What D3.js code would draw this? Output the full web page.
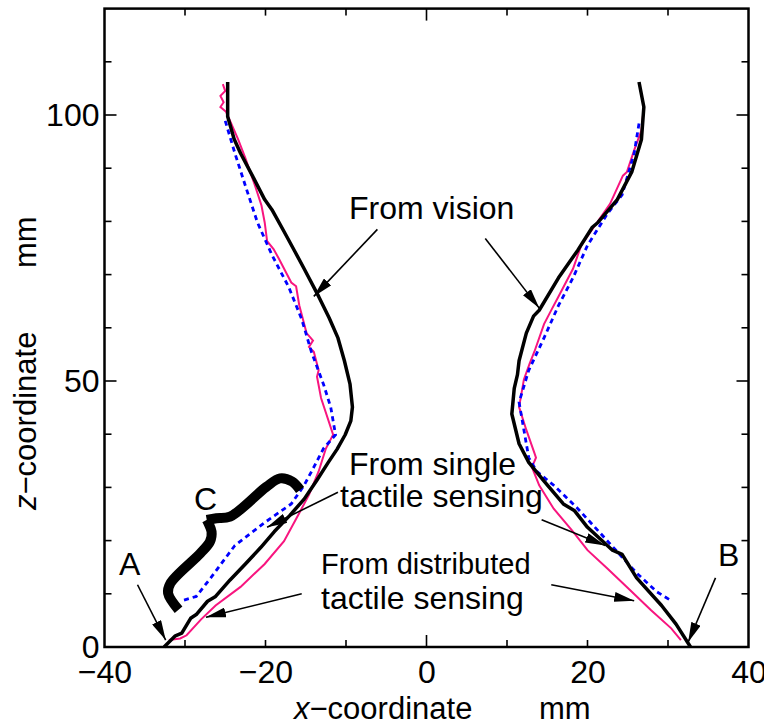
<!DOCTYPE html>
<html>
<head>
<meta charset="utf-8">
<script src="https://cdn.jsdelivr.net/npm/d3@7/dist/d3.min.js"></script>
<style>
  body { margin: 0; background: #fff; }
  text { font-family: "Liberation Sans", Arial, sans-serif; fill: #000; }
</style>
</head>
<body>
<svg width="764" height="724"></svg>
<script>
// values, [x mm, z mm]
var visionLeft = [[-24.7,106.2],[-24.7,99.7],[-23.9,95.5],[-23.1,92.8],[-21.6,88.5],[-20.1,84.1],[-19.2,82.2],[-17.7,78.1],
  [-16.3,74.2],[-15.2,71.1],[-13.4,65.9],[-12.1,61.9],[-11.0,58.1],[-10.2,53.8],[-9.5,49.4],[-9.2,45.1],[-9.4,42.5],
  [-10.1,39.9],[-11.1,37.2],[-12.2,34.7],[-13.6,31.4],[-15.2,27.8],[-17.0,24.7],[-18.9,21.7],[-20.6,18.7],[-22.5,15.6],
  [-24.4,12.6],[-26.2,9.5],[-27.2,8.6],[-28.6,6.1],[-29.3,5.4],[-30.4,2.6],[-31.2,2.1],[-32.6,0]];
var visionRight = [[26.4,106.2],[27.0,101.5],[26.7,95.4],[25.5,89.3],[23.7,84.1],[21.3,79.8],[20.6,78.9],[18.8,74.6],
  [16.4,69.4],[14.0,63.3],[13.3,62.2],[12.4,59.0],[11.5,53.8],[11.3,51.2],[10.9,48.6],[10.6,43.8],[11.5,38.2],
  [12.7,34.7],[14.6,31.2],[17.0,26.9],[18.4,25.6],[20.0,22.5],[23.1,18.2],[24.3,17.4],[26.1,13.0],[29.2,7.8],
  [31.0,4.3],[32.8,0]];
var distLeft = [[-25.3,105.8],[-25.0,104.5],[-25.6,103.6],[-25.2,102.4],[-25.6,101.5],[-24.9,100.6],[-24.4,98.9],
  [-23.4,95.4],[-22.5,91.9],[-21.3,86.7],[-20.5,83.0],[-20.1,79.8],[-19.8,76.3],[-19.0,74.8],[-18.3,72.9],
  [-16.8,68.5],[-16.2,67.8],[-15.8,64.2],[-14.9,59.0],[-14.1,57.6],[-14.6,56.4],[-14.0,55.5],[-13.4,52.0],
  [-13.6,50.8],[-13.1,46.8],[-11.6,39.9],[-12.5,37.3],[-13.4,33.0],[-14.6,28.6],[-15.8,25.2],[-17.7,19.9],
  [-20.1,15.6],[-23.1,11.3],[-26.2,7.8],[-28.0,5.2],[-29.8,2.2],[-30.6,1.6],[-32.0,1.3]];
var distRight = [[27.0,101.5],[26.7,97.1],[25.8,93.4],[24.9,89.3],[24.4,88.6],[22.8,83.3],[20.0,77.2],[19.2,75.4],
  [18.2,71.1],[16.4,65.9],[15.6,63.6],[14.6,60.7],[13.4,55.5],[12.8,53.2],[12.1,50.3],[11.5,45.1],[12.4,40.8],
  [13.4,36.5],[13.6,35.6],[13.1,33.8],[14.0,30.4],[15.8,26.0],[18.2,21.7],[20.0,18.2],[22.5,14.7],[25.5,10.4],
  [27.9,6.9],[30.4,3.5],[31.6,1.3]];
var singleLeft = [[-25.0,98.9],[-23.8,92.8],[-22.5,86.7],[-21.0,79.8],[-19.2,73.7],[-17.1,67.6],[-15.5,61.6],
  [-14.3,55.5],[-12.8,49.4],[-11.9,45.1],[-11.3,39.9],[-12.8,37.3],[-14.0,33.8],[-15.2,30.4],[-16.8,26.9],
  [-20.1,23.4],[-23.8,19.1],[-26.8,13.0],[-28.6,9.5],[-30.4,8.7]];
var singleRight = [[26.4,98.4],[25.8,92.8],[24.3,85.0],[22.5,81.5],[20.0,75.5],[18.2,69.4],[16.4,64.2],[14.6,58.1],
  [12.7,52.0],[11.5,46.0],[12.1,40.8],[12.7,35.6],[13.7,33.0],[15.8,30.4],[18.8,26.0],[22.5,19.9],[26.1,13.9],
  [28.6,10.4],[30.4,8.7]];

var xTicks = [-40, -20, 0, 20, 40];
var zTicks = [0, 50, 100];

// annotation arrows [from, to] in data units
var arrows = [
  [[-6.1,78.5],[-14.0,65.9]], [[7.3,76.8],[14.0,63.7]],
  [[-11.0,29.1],[-19.8,22.5]], [[14.3,23.9],[22.2,19.1]],
  [[-15.5,10.0],[-27.4,5.6]], [[15.5,11.7],[25.8,8.7]],
  [[-35.9,11.7],[-32.4,1.3]], [[35.9,13.0],[32.5,0.9]]
];
// brace "C", two halves meeting at the point
var braceLow = [[-30.8,7.0],[-32.1,10.1],[-31.8,12.0],[-28.1,17.6],[-26.9,19.8],[-26.7,21.7],[-27.3,23.9]];
var braceHigh = [[-27.3,23.9],[-26.1,24.2],[-24.4,24.5],[-19.9,30.1],[-18.2,31.7],[-16.7,31.1],[-15.7,29.5]];

var svg = d3.select("svg");
var x = d3.scaleLinear().domain([-40, 40]).range([104.5, 748.5]);
var y = d3.scaleLinear().domain([0, 120]).range([647, 8.6]);

var line = d3.line().x(d => x(d[0])).y(d => y(d[1]));

// ticks (inside)
var g = svg.append("g");
d3.range(-30, 40, 10).forEach(function(v) {
  var L = v === 0 ? 12 : 7;
  g.append("line").attr("x1", x(v)).attr("x2", x(v)).attr("y1", y(0)).attr("y2", y(0) - L);
  g.append("line").attr("x1", x(v)).attr("x2", x(v)).attr("y1", y(120)).attr("y2", y(120) + L);
});
d3.range(10, 120, 10).forEach(function(v) {
  var L = (v === 50 || v === 100) ? 12 : 7;
  g.append("line").attr("x1", x(-40)).attr("x2", x(-40) + L).attr("y1", y(v)).attr("y2", y(v));
  g.append("line").attr("x1", x(40)).attr("x2", x(40) - L).attr("y1", y(v)).attr("y2", y(v));
});
g.selectAll("line").attr("stroke", "#000").attr("stroke-width", 1.6);

svg.append("rect").attr("x", x(-40)).attr("y", y(120))
  .attr("width", x(40) - x(-40)).attr("height", y(0) - y(120))
  .attr("fill", "none").attr("stroke", "#000").attr("stroke-width", 2.5);

// tick labels via axes
var xAxis = svg.append("g").attr("transform", "translate(0," + y(0) + ")")
  .call(d3.axisBottom(x).tickValues(xTicks).tickSize(0).tickPadding(10));
var yAxis = svg.append("g").attr("transform", "translate(" + x(-40) + ",0)")
  .call(d3.axisLeft(y).tickValues(zTicks).tickSize(0).tickPadding(5));
[xAxis, yAxis].forEach(function(a) {
  a.select(".domain").remove();
  a.selectAll("text").attr("font-size", 32).attr("font-family", "Liberation Sans, Arial, sans-serif").attr("fill", "#000");
});
xAxis.selectAll("text").attr("dy", "0.8em");

// curves
svg.append("path").attr("d", line(distLeft)).attr("fill", "none").attr("stroke", "#f8157f").attr("stroke-width", 2);
svg.append("path").attr("d", line(distRight)).attr("fill", "none").attr("stroke", "#f8157f").attr("stroke-width", 2);
[singleLeft, singleRight].forEach(function(s) {
  svg.append("path").attr("d", line(s)).attr("fill", "none").attr("stroke", "#0000ff")
    .attr("stroke-width", 2.8).attr("stroke-dasharray", "5,4");
});
[visionLeft, visionRight].forEach(function(s) {
  svg.append("path").attr("d", line(s)).attr("fill", "none").attr("stroke", "#000")
    .attr("stroke-width", 3.5).attr("stroke-linejoin", "round");
});

// brace C
var smooth = d3.line().x(d => x(d[0])).y(d => y(d[1])).curve(d3.curveCatmullRom);
[braceLow, braceHigh].forEach(function(b) {
  svg.append("path").attr("d", smooth(b))
    .attr("fill", "none").attr("stroke", "#000").attr("stroke-width", 10).attr("stroke-linejoin", "miter");
});

// arrows
svg.append("defs").append("marker").attr("id", "head")
  .attr("viewBox", "0 0 20 10").attr("refX", 20).attr("refY", 5)
  .attr("markerWidth", 20).attr("markerHeight", 10).attr("markerUnits", "userSpaceOnUse")
  .attr("orient", "auto")
  .append("path").attr("d", "M0,0 L20,5 L0,10 Z").attr("fill", "#000");
arrows.forEach(function(a) {
  svg.append("line").attr("x1", x(a[0][0])).attr("y1", y(a[0][1]))
    .attr("x2", x(a[1][0])).attr("y2", y(a[1][1]))
    .attr("stroke", "#000").attr("stroke-width", 1.6).attr("marker-end", "url(#head)");
});

// labels
function label(t, px, py, size) {
  return svg.append("text").attr("x", px).attr("y", py).attr("font-size", size || 32).text(t);
}
label("From vision", 349, 219);
label("From single", 349, 475);
label("tactile sensing", 340, 507);
label("From distributed", 321, 574, 29);
label("tactile sensing", 321, 609);
label("C", 194, 510);
label("A", 119, 575);
label("B", 718, 566);

var xt = svg.append("text").attr("x", 294).attr("y", 719).attr("font-size", 31);
xt.append("tspan").attr("font-style", "italic").text("x");
xt.append("tspan").text("\u2212coordinate");
svg.append("text").attr("x", 539).attr("y", 719).attr("font-size", 31).text("mm");

var yt = svg.append("text").attr("transform", "translate(36,510) rotate(-90)").attr("font-size", 31);
yt.append("tspan").attr("font-style", "italic").text("z");
yt.append("tspan").text("\u2212coordinate");
svg.append("text").attr("transform", "translate(36,268) rotate(-90)").attr("font-size", 31).text("mm");
</script>
</body>
</html>
